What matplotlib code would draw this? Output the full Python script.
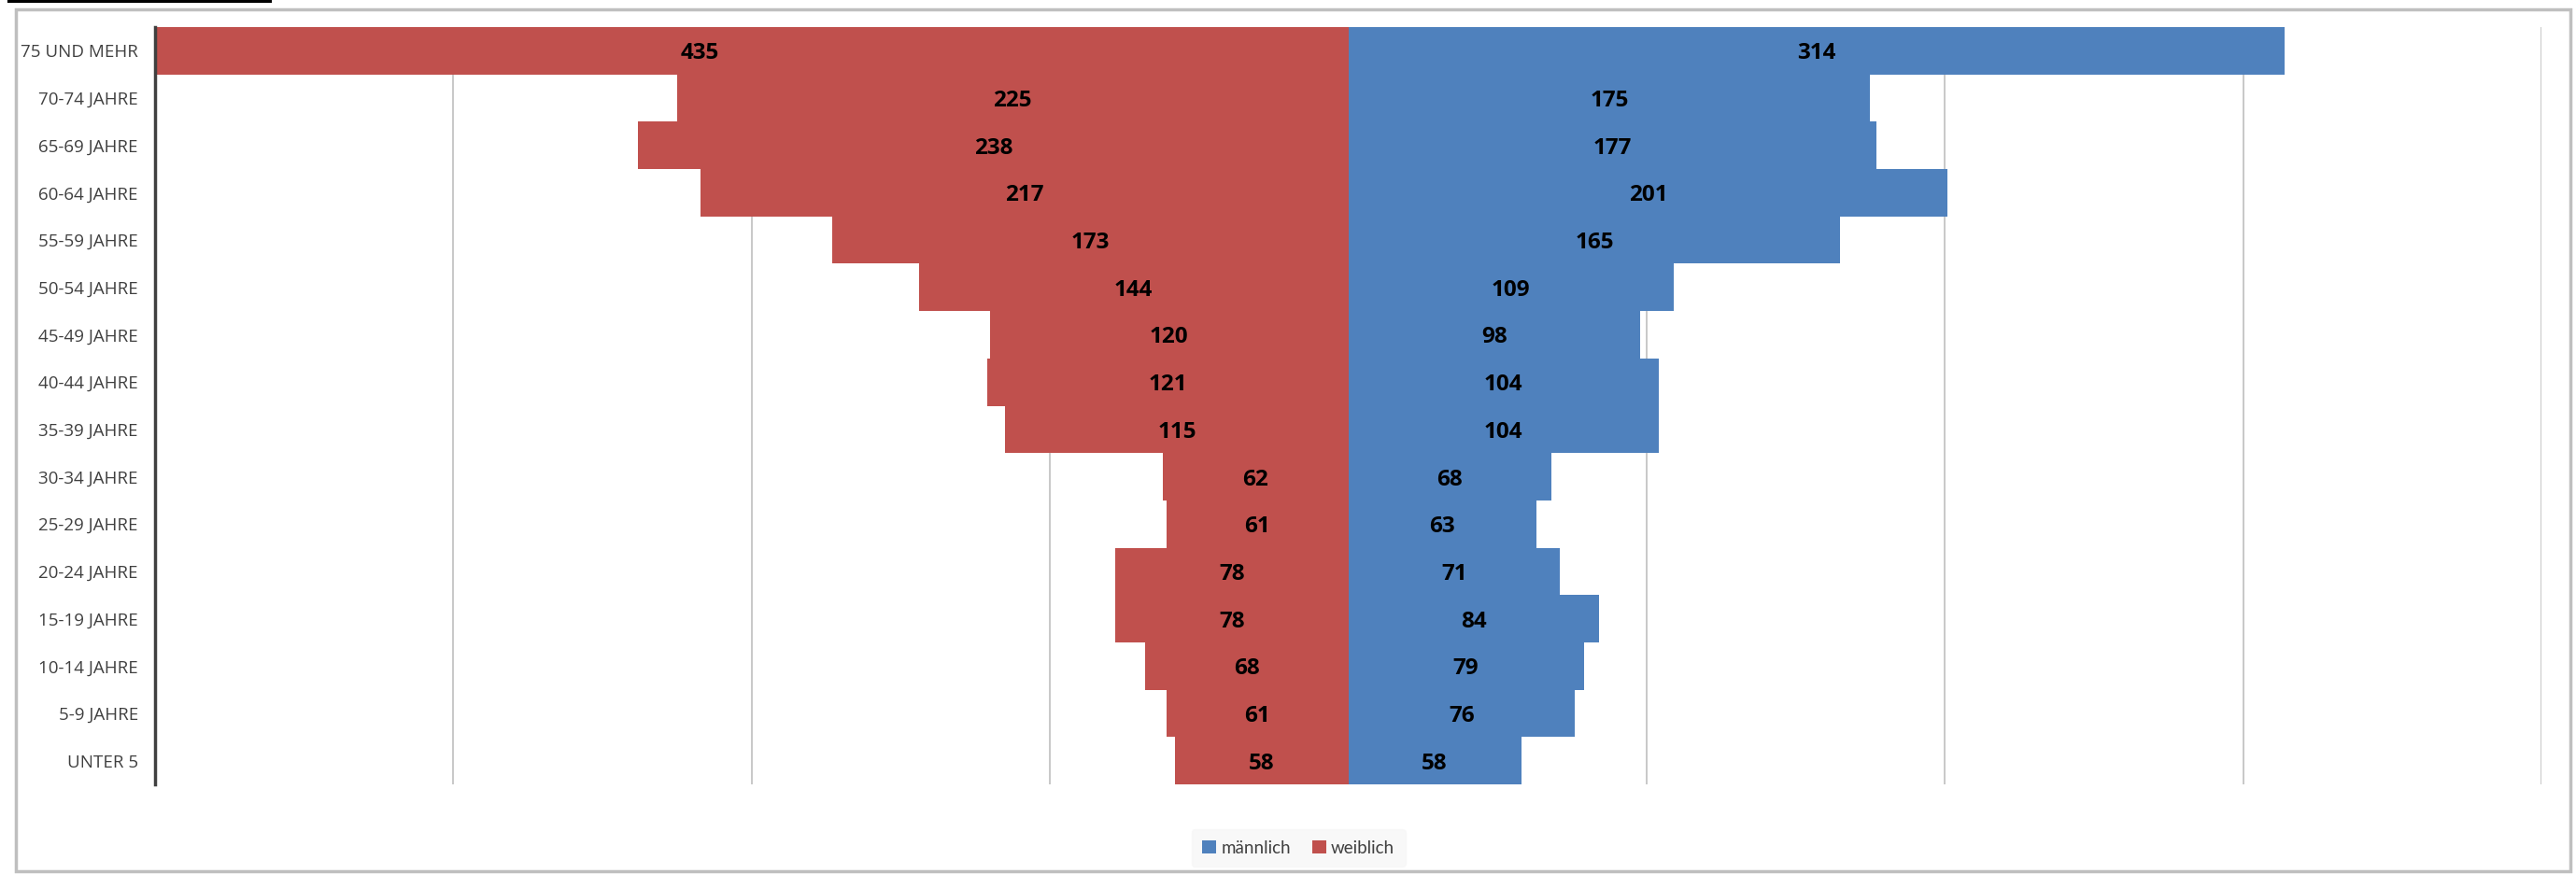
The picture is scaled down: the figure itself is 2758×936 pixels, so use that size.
import matplotlib
matplotlib.use("Agg")
import matplotlib.pyplot as plt
from matplotlib.patches import Rectangle, Patch
from matplotlib.lines import Line2D

# Altersgruppen von oben nach unten
altersgruppen = ['75 UND MEHR', '70-74 JAHRE', '65-69 JAHRE', '60-64 JAHRE',
                 '55-59 JAHRE', '50-54 JAHRE', '45-49 JAHRE', '40-44 JAHRE',
                 '35-39 JAHRE', '30-34 JAHRE', '25-29 JAHRE', '20-24 JAHRE',
                 '15-19 JAHRE', '10-14 JAHRE', '5-9 JAHRE', 'UNTER 5']
weiblich = [435, 225, 238, 217, 173, 144, 120, 121, 115, 62, 61, 78, 78, 68, 61, 58]
maennlich = [314, 175, 177, 201, 165, 109, 98, 104, 104, 68, 63, 71, 84, 79, 76, 58]
gitter = [-300, -200, -100, 100, 200, 300, 400]

ROT = '#C0504D'
BLAU = '#4F81BD'

fig = plt.figure(figsize=(27.58, 9.36), dpi=100)
ax = fig.add_axes([166 / 2758, 1 - 840 / 936, (2721 - 166) / 2758, (840 - 29) / 936])

n = len(altersgruppen)
ypos = list(range(n - 1, -1, -1))

ax.barh(ypos, [-w for w in weiblich], height=1.0, color=ROT, zorder=2)
ax.barh(ypos, maennlich, height=1.0, color=BLAU, zorder=2)

for y, w, m in zip(ypos, weiblich, maennlich):
    ax.text(-w / 2, y, str(w), ha='center', va='center_baseline', fontsize=17.5,
            fontweight='bold', family='Open Sans', color='black', zorder=3)
    ax.text(m / 2, y, str(m), ha='center', va='center_baseline', fontsize=17.5,
            fontweight='bold', family='Open Sans', color='black', zorder=3)

for g in gitter:
    ax.axvline(g, color='#BFBFBF', lw=1.2, zorder=1)

ax.set_xlim(-400, 400)
ax.set_ylim(-0.5, n - 0.5)
ax.set_xticks([])
ax.set_yticks(ypos)
ax.set_yticklabels(altersgruppen, fontsize=13.5, family='Open Sans', color='#404040')
ax.tick_params(axis='y', length=0, pad=13)
for s in ['top', 'right', 'bottom']:
    ax.spines[s].set_visible(False)
ax.spines['left'].set_color('#404040')
ax.spines['left'].set_linewidth(2.5)
ax.spines['left'].set_zorder(4)

# Rahmen des Diagramms
fig.patches.append(Rectangle((17 / 2758, 3 / 936), (2752 - 17) / 2758, (926 - 3) / 936,
                             transform=fig.transFigure, fill=False,
                             edgecolor='#BFBFBF', lw=2.5))
fig.lines.append(Line2D([10 / 2758, 289 / 2758], [935 / 936, 935 / 936],
                        transform=fig.transFigure, color='black', lw=3))

handles = [Patch(facecolor=BLAU, label='männlich'), Patch(facecolor=ROT, label='weiblich')]
leg = fig.legend(handles=handles, loc='center', bbox_to_anchor=(1390 / 2758, 1 - 908 / 936),
                 ncol=2, frameon=True, prop={'family': 'Lato', 'size': 13.5},
                 handlelength=0.8, handleheight=0.8, handletextpad=0.3, columnspacing=1.2,
                 borderpad=0.6)
leg.get_frame().set_facecolor('#F7F7F7')
leg.get_frame().set_edgecolor('#F7F7F7')
for t in leg.get_texts():
    t.set_color('#404040')

fig.savefig('out.png', dpi=100)
